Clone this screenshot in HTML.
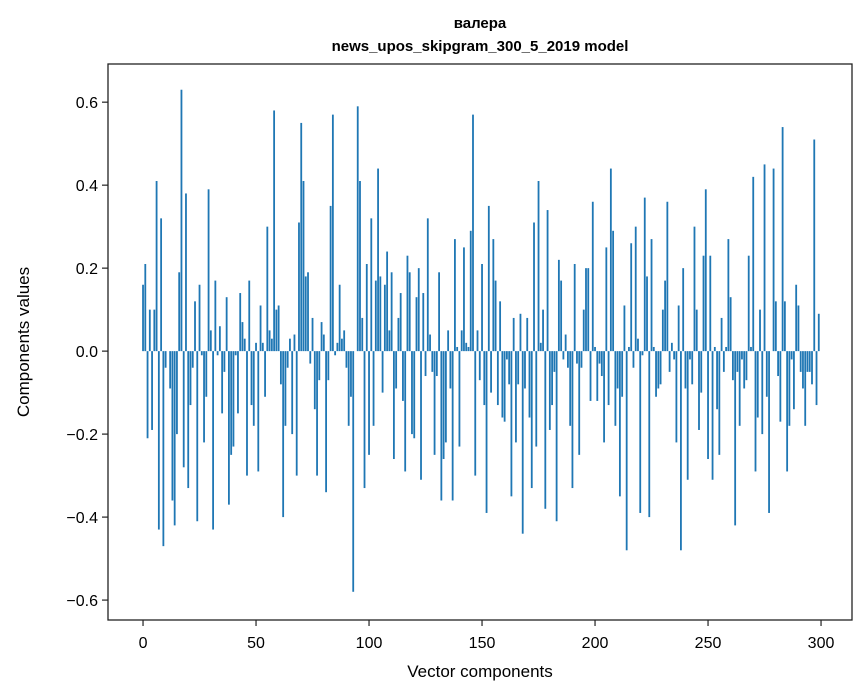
<!DOCTYPE html>
<html><head><meta charset="utf-8"><style>
html,body{margin:0;padding:0;background:#fff;}
svg{display:block;font-family:"Liberation Sans","DejaVu Sans",sans-serif;}
</style></head><body>
<svg id="chart" width="867" height="696" viewBox="0 0 867 696" xmlns="http://www.w3.org/2000/svg">
<rect width="867" height="696" fill="#fff"/>
<text x="480" y="28" text-anchor="middle" font-size="15" font-weight="bold">валера</text>
<text x="480" y="51" text-anchor="middle" font-size="15" font-weight="bold">news_upos_skipgram_300_5_2019 model</text>
<g id="bars"></g>
<g id="axes"></g>
<text x="480" y="677" text-anchor="middle" font-size="17">Vector components</text>
<text transform="translate(29,342) rotate(-90)" text-anchor="middle" font-size="17">Components values</text>
</svg>
<script>
const values = [
0.16,0.21,-0.21,0.10,-0.19,0.10,0.41,-0.43,0.32,-0.47,
-0.04,0.00,-0.09,-0.36,-0.42,-0.20,0.19,0.63,-0.28,0.38,
-0.33,-0.13,-0.04,0.12,-0.41,0.16,-0.01,-0.22,-0.11,0.39,
0.05,-0.43,0.17,-0.01,0.06,-0.15,-0.05,0.13,-0.37,-0.25,
-0.23,-0.01,-0.15,0.14,0.07,0.03,-0.30,0.17,-0.13,-0.18,
0.02,-0.29,0.11,0.02,-0.11,0.30,0.05,0.03,0.58,0.10,
0.11,-0.08,-0.40,-0.18,-0.04,0.03,-0.20,0.04,-0.30,0.31,
0.55,0.41,0.18,0.19,-0.03,0.08,-0.14,-0.30,-0.07,0.07,
0.04,-0.34,-0.07,0.35,0.57,-0.01,0.02,0.16,0.03,0.05,
-0.04,-0.18,-0.11,-0.58,0.00,0.59,0.41,0.08,-0.33,0.21,
-0.25,0.32,-0.18,0.17,0.44,0.18,-0.10,0.16,0.24,0.05,
0.19,-0.26,-0.09,0.08,0.14,-0.12,-0.29,0.23,0.19,-0.20,
-0.21,0.13,0.20,-0.31,0.14,-0.06,0.32,0.04,-0.05,-0.25,
-0.06,0.19,-0.36,-0.26,-0.22,0.05,-0.09,-0.36,0.27,0.01,
-0.23,0.05,0.25,0.02,0.01,0.29,0.57,-0.30,0.05,-0.07,
0.21,-0.13,-0.39,0.35,-0.10,0.27,0.17,-0.13,0.12,-0.16,
-0.17,-0.02,-0.08,-0.35,0.08,-0.22,-0.08,0.09,-0.44,-0.09,
0.08,-0.16,-0.33,0.31,-0.23,0.41,0.02,0.10,-0.38,0.34,
-0.19,-0.13,-0.05,-0.41,0.22,0.17,-0.02,0.04,-0.04,-0.18,
-0.33,0.21,-0.03,-0.25,-0.04,0.10,0.20,0.20,-0.12,0.36,
0.01,-0.12,-0.03,-0.06,-0.22,0.25,-0.13,0.44,0.29,-0.18,
-0.09,-0.35,-0.11,0.11,-0.48,0.01,0.26,-0.04,0.30,0.03,
-0.39,-0.01,0.37,0.18,-0.40,0.27,0.01,-0.11,-0.09,-0.08,
0.10,0.17,0.36,-0.05,0.02,-0.02,-0.22,0.11,-0.48,0.20,
-0.09,-0.31,-0.02,-0.08,0.30,0.10,-0.19,-0.10,0.23,0.39,
-0.26,0.23,-0.31,0.01,-0.14,-0.25,0.08,-0.05,0.01,0.27,
0.13,-0.07,-0.42,-0.05,-0.18,-0.02,-0.09,-0.07,0.23,0.01,
0.42,-0.29,-0.16,0.10,-0.20,0.45,-0.11,-0.39,0.00,0.44,
0.12,-0.06,-0.17,0.54,0.12,-0.29,-0.18,-0.02,-0.14,0.16,
0.11,-0.05,-0.09,-0.18,-0.05,-0.05,-0.08,0.51,-0.13,0.09
];
const xTicks = [0,50,100,150,200,250,300];
const yTicks = [-0.6,-0.4,-0.2,0.0,0.2,0.4,0.6];
const yTickLabels = ["\u22120.6","\u22120.4","\u22120.2","0.0","0.2","0.4","0.6"];

const L=108,R=852,T=64,B=620;
const xMin=-15.5,xMax=313.7,yMin=-0.648,yMax=0.692;
function sx(v){return L+(v-xMin)/(xMax-xMin)*(R-L);}
function sy(v){return T+(yMax-v)/(yMax-yMin)*(B-T);}
const NS="http://www.w3.org/2000/svg";
const bars=document.getElementById('bars');
values.forEach((v,i)=>{
  const r=document.createElementNS(NS,'rect');
  const x0=sx(i-0.4),x1=sx(i+0.4);
  const y0=sy(Math.max(v,0)),y1=sy(Math.min(v,0));
  r.setAttribute('x',x0);r.setAttribute('width',x1-x0);
  r.setAttribute('y',y0);r.setAttribute('height',Math.max(y1-y0,0.01));
  r.setAttribute('fill','#1f77b4');
  
  
  bars.appendChild(r);
});
const axes=document.getElementById('axes');
const frame=document.createElementNS(NS,'rect');
frame.setAttribute('x',L);frame.setAttribute('y',T);frame.setAttribute('width',R-L);frame.setAttribute('height',B-T);
frame.setAttribute('fill','none');frame.setAttribute('stroke','#222');frame.setAttribute('stroke-width','1.3');


axes.appendChild(frame);
xTicks.forEach(t=>{
  const x=sx(t);
  const ln=document.createElementNS(NS,'line');
  ln.setAttribute('x1',x);ln.setAttribute('x2',x);ln.setAttribute('y1',B);ln.setAttribute('y2',B+6);
  ln.setAttribute('stroke','#222');ln.setAttribute('stroke-width','1.2');
  
  
  axes.appendChild(ln);
  const tx=document.createElementNS(NS,'text');
  tx.setAttribute('x',x);tx.setAttribute('y',B+28);tx.setAttribute('text-anchor','middle');tx.setAttribute('font-size','16');
  tx.textContent=String(t);
  
  
  axes.appendChild(tx);
});
yTicks.forEach((t,i)=>{
  const y=sy(t);
  const ln=document.createElementNS(NS,'line');
  ln.setAttribute('x1',L-6);ln.setAttribute('x2',L);ln.setAttribute('y1',y);ln.setAttribute('y2',y);
  ln.setAttribute('stroke','#222');ln.setAttribute('stroke-width','1.2');
  
  
  axes.appendChild(ln);
  const tx=document.createElementNS(NS,'text');
  tx.setAttribute('x',L-10);tx.setAttribute('y',y+6);tx.setAttribute('text-anchor','end');tx.setAttribute('font-size','16');
  tx.textContent=yTickLabels[i];
  
  
  axes.appendChild(tx);
});
</script>
</body></html>
